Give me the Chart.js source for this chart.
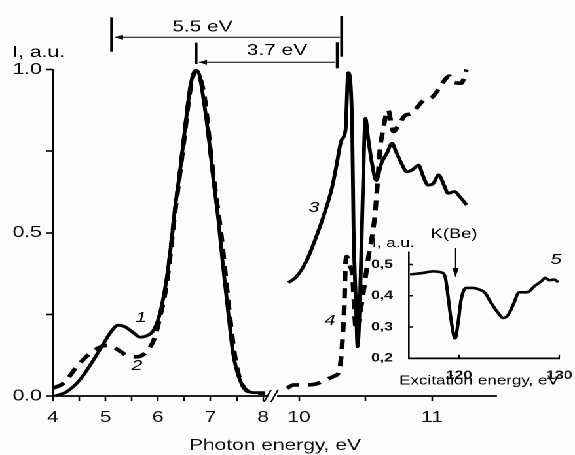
<!DOCTYPE html>
<html>
<head>
<meta charset="utf-8">
<script src="https://cdn.jsdelivr.net/npm/chart.js@4"></script>
<style>
  html, body { margin: 0; padding: 0; background: #fcfcfc; overflow: hidden; }
  /* the source figure is stretched sideways, so the drawing is too */
  #wrap { position: relative; width: 439px; height: 455px; transform: scaleX(1.30979); transform-origin: 0 0; }
  #wrap canvas { position: absolute; left: 0; top: 0; }
</style>
</head>
<body>
<div id="wrap">
  <canvas id="mainChart" width="439" height="455"></canvas>
  <canvas id="insetChart" width="439" height="455"></canvas>
</div>
<script>
// Luminescence / excitation spectra with a broken energy axis (8 -> 10 eV) and an inset

// ---- data ----
const X_TICKS_E     = [4, 4.5, 5, 5.5, 6, 6.5, 7, 7.5, 8, 10, 10.5, 11];
const X_TICK_LABELS = ['4', '', '5', '', '6', '', '7', '', '8', '10', '', '11'];
const Y_TICKS       = [0, 0.25, 0.5, 0.75, 1];
const Y_TICK_LABELS = ['0.0', '', '0.5', '', '1.0'];

// curve 1 (solid)
const C1_E = [4.04, 4.26, 4.51, 4.77, 4.96, 5.12, 5.24, 5.37, 5.53, 5.66, 5.78, 5.91, 6.02, 6.13, 6.20, 6.26, 6.32, 6.42, 6.50, 6.58, 6.64, 6.72, 6.79, 6.86, 6.96, 7.05, 7.15, 7.24, 7.34, 7.43, 7.56, 7.69, 7.88, 8.03];
const C1_I = [0.0, 0.013, 0.049, 0.11, 0.16, 0.20, 0.217, 0.212, 0.194, 0.18, 0.184, 0.20, 0.243, 0.325, 0.40, 0.478, 0.57, 0.69, 0.80, 0.906, 0.968, 0.998, 0.983, 0.917, 0.80, 0.67, 0.54, 0.396, 0.253, 0.131, 0.049, 0.018, 0.01, 0.01];

// curve 2 (dashed)
const C2_E = [4.0, 4.2, 4.48, 4.7, 4.9, 5.02, 5.15, 5.3, 5.43, 5.6, 5.78, 5.94, 6.05, 6.13, 6.2, 6.3, 6.42, 6.5, 6.58, 6.64, 6.72, 6.8, 6.9, 7.0, 7.1, 7.2, 7.3, 7.4, 7.5, 7.62, 7.82, 8.03];
const C2_I = [0.024, 0.039, 0.095, 0.13, 0.15, 0.155, 0.149, 0.135, 0.122, 0.12, 0.136, 0.18, 0.25, 0.31, 0.385, 0.53, 0.685, 0.79, 0.9, 0.962, 0.995, 0.975, 0.9, 0.75, 0.62, 0.5, 0.35, 0.2, 0.09, 0.03, 0.01, 0.008];

// curve 3 (solid)
const C3_E = [9.92, 9.98, 10.06, 10.13, 10.20, 10.25, 10.28, 10.32, 10.35, 10.37, 10.40, 10.41, 10.43, 10.44, 10.46, 10.48, 10.50, 10.52, 10.55, 10.58, 10.62, 10.66, 10.70, 10.73, 10.77, 10.81, 10.85, 10.90, 10.93, 10.97, 11.01, 11.05, 11.09, 11.12, 11.17, 11.21, 11.26];
const C3_I = [0.347, 0.365, 0.417, 0.488, 0.57, 0.641, 0.702, 0.784, 0.815, 0.99, 0.825, 0.519, 0.263, 0.151, 0.315, 0.621, 0.85, 0.79, 0.71, 0.66, 0.713, 0.743, 0.774, 0.748, 0.713, 0.687, 0.692, 0.707, 0.677, 0.646, 0.651, 0.677, 0.646, 0.621, 0.626, 0.61, 0.585];

// curve 4 (dashed)
const C4_E = [9.91, 9.96, 10.05, 10.12, 10.2, 10.27, 10.3, 10.32, 10.33, 10.34, 10.35, 10.36, 10.38, 10.4, 10.43, 10.47, 10.52, 10.57, 10.59, 10.61, 10.63, 10.67, 10.71, 10.75, 10.8, 10.85, 10.9, 10.95, 11.0, 11.05, 11.1, 11.13, 11.17, 11.22, 11.26];
const C4_I = [0.024, 0.034, 0.034, 0.036, 0.049, 0.062, 0.074, 0.131, 0.192, 0.27, 0.406, 0.427, 0.40, 0.376, 0.2, 0.28, 0.42, 0.55, 0.65, 0.76, 0.81, 0.876, 0.81, 0.83, 0.86, 0.865, 0.89, 0.91, 0.915, 0.94, 0.97, 0.98, 0.96, 0.958, 1.0];

// inset: curve 5
const IN_X_TICKS  = [120, 130];
const IN_Y_TICKS  = [0.2, 0.3, 0.4, 0.5];
const IN_Y_LABELS = ['0,2', '0,3', '0,4', '0,5'];
const C5_E = [115.1, 116.4, 117.4, 118.2, 118.6, 118.9, 119.2, 119.6, 119.9, 120.2, 120.7, 121.4, 122.0, 122.6, 123.2, 123.9, 124.4, 124.9, 125.4, 126.0, 126.5, 127.0, 127.5, 128.2, 128.6, 129.0, 129.5, 129.9];
const C5_I = [0.468, 0.473, 0.478, 0.475, 0.462, 0.398, 0.323, 0.264, 0.313, 0.387, 0.425, 0.425, 0.42, 0.409, 0.377, 0.345, 0.329, 0.339, 0.371, 0.411, 0.411, 0.414, 0.43, 0.446, 0.457, 0.45, 0.452, 0.443];

// ---- layout helpers ----
const S = 575 / 439;            // horizontal stretch of the picture
const X = px => px / S;          // picture px -> canvas px (horizontal only)
const FONT = "Arial, 'Liberation Sans', Helvetica, sans-serif";

// broken axis: 4..8 eV at 52.5 px/eV, 10..11.5 eV at 133 px/eV
const U_AT_10 = 4 + (299 - 53) / 52.5;
const U_MAX   = 4 + (497 - 53) / 52.5;
function toU(e) { return e <= 9 ? e : U_AT_10 + (e - 10) * 133 / 52.5; }
const pts = (es, is) => es.map((e, i) => ({ x: toU(e), y: is[i] }));
const pts5 = (es, is) => es.map((e, i) => ({ x: e, y: is[i] }));

Chart.defaults.font.family = FONT;
Chart.defaults.color = '#111';

function line(ctx, x1, y1, x2, y2) {
  ctx.beginPath(); ctx.moveTo(x1, y1); ctx.lineTo(x2, y2); ctx.stroke();
}

function arrowLeft(ctx, xTip, xEnd, y) {
  ctx.lineWidth = 1;
  line(ctx, xTip, y, xEnd, y);
  ctx.beginPath();
  ctx.moveTo(xTip, y);
  ctx.lineTo(xTip + X(8), y - 2.6);
  ctx.lineTo(xTip + X(8), y + 2.6);
  ctx.closePath(); ctx.fill();
}

const mainDecor = {
  id: 'mainDecor',
  afterDraw(chart) {
    const ctx = chart.ctx;
    const xs = chart.scales.x, ys = chart.scales.y;
    const y0 = ys.getPixelForValue(0);
    ctx.save();
    ctx.strokeStyle = '#000'; ctx.fillStyle = '#000';

    // x axis with the // break
    ctx.lineWidth = 1.7;
    line(ctx, xs.left - 0.6, y0, X(268), y0);
    line(ctx, X(277), y0, xs.right, y0);
    ctx.lineWidth = 1.3;
    line(ctx, X(264), y0 + 6, X(271), y0 - 6);
    line(ctx, X(271), y0 + 6, X(278), y0 - 6);

    // energy distance markers
    ctx.lineWidth = 3 / S;
    line(ctx, X(111.7), 17.3, X(111.7), 51.7);
    line(ctx, X(341.7), 16, X(341.7), 56.7);
    line(ctx, X(196), 42.7, X(196), 64);
    line(ctx, X(337.3), 42.3, X(337.3), 68.3);
    arrowLeft(ctx, X(115), X(340), 37.3);
    arrowLeft(ctx, X(199), X(335.5), 62.3);

    ctx.font = '16px ' + FONT;
    ctx.textAlign = 'center'; ctx.textBaseline = 'alphabetic';
    ctx.fillText('5.5 eV', X(202.5), 31.7);
    ctx.fillText('3.7 eV', X(277), 55);

    ctx.textAlign = 'left';
    ctx.fillText('I, a.u.', X(12.5), 57);

    // curve numbers
    ctx.font = 'italic 15px ' + FONT;
    ctx.textAlign = 'center'; ctx.textBaseline = 'middle';
    ctx.fillText('1', X(141), 318);
    ctx.fillText('2', X(137), 366);
    ctx.fillText('3', X(314), 208);
    ctx.fillText('4', X(330), 321);
    ctx.restore();
  }
};

const insetDecor = {
  id: 'insetDecor',
  afterDraw(chart) {
    const ctx = chart.ctx;
    const xs = chart.scales.x, ys = chart.scales.y;
    ctx.save();
    ctx.strokeStyle = '#000'; ctx.fillStyle = '#000';

    // inward tick marks
    ctx.lineWidth = 1.5;
    IN_Y_TICKS.slice(1).forEach(v => {
      const py = ys.getPixelForValue(v);
      line(ctx, xs.left, py, xs.left + X(4), py);
    });
    ctx.lineWidth = 1.5 / S;
    IN_X_TICKS.forEach(v => {
      const px = xs.getPixelForValue(v);
      line(ctx, px, ys.bottom, px, ys.bottom - 3.5);
    });

    // K(Be) marker
    const ax = X(455.5);
    ctx.lineWidth = 1 / S;
    line(ctx, ax, 248, ax, 270);
    ctx.beginPath();
    ctx.moveTo(ax, 277.5);
    ctx.lineTo(ax - X(3.2), 268);
    ctx.lineTo(ax + X(3.2), 268);
    ctx.closePath(); ctx.fill();

    ctx.textBaseline = 'alphabetic';
    ctx.font = '14px ' + FONT;
    ctx.textAlign = 'center';
    ctx.fillText('K(Be)', X(454), 238);
    ctx.font = '13px ' + FONT;
    ctx.textAlign = 'left';
    ctx.fillText('I, a.u.', X(372), 247);
    ctx.textAlign = 'center';
    ctx.fillText('Excitation energy, eV', X(479), 384.5);

    ctx.font = 'italic 15px ' + FONT;
    ctx.textBaseline = 'middle';
    ctx.fillText('5', X(556), 260);
    ctx.restore();
  }
};

new Chart(document.getElementById('mainChart'), {
  type: 'line',
  data: {
    datasets: [
      { data: pts(C2_E, C2_I), borderWidth: 3.6, borderDash: [10, 7] },
      { data: pts(C4_E, C4_I), borderWidth: 3.6, borderDash: [10, 7] },
      { data: pts(C1_E, C1_I), borderWidth: 2.9 },
      { data: pts(C3_E, C3_I), borderWidth: 2.9 }
    ].map(d => Object.assign({
      borderColor: '#000', pointRadius: 0, fill: false, clip: false,
      cubicInterpolationMode: 'monotone', borderJoinStyle: 'round'
    }, d))
  },
  options: {
    responsive: false,
    devicePixelRatio: 2,
    animation: false,
    layout: { padding: { left: 0, right: X(575 - 497), top: 69.5, bottom: 0 } },
    plugins: { legend: { display: false }, tooltip: { enabled: false } },
    scales: {
      x: {
        type: 'linear', min: 4, max: U_MAX,
        afterFit: s => { s.height = 455 - 396; },
        afterBuildTicks: s => { s.ticks = X_TICKS_E.map(e => ({ value: toU(e) })); },
        border: { display: false },
        grid: { drawOnChartArea: false, color: '#000', tickLength: 5, tickWidth: 1.3 },
        ticks: {
          autoSkip: false, maxRotation: 0, minRotation: 0, padding: 7,
          font: { size: 16 }, color: '#111',
          callback: (v, i) => X_TICK_LABELS[i]
        },
        title: { display: true, text: 'Photon energy, eV', font: { size: 16 }, color: '#111', padding: { top: 0, bottom: 0 } }
      },
      y: {
        min: 0, max: 1,
        afterFit: s => { s.width = X(53); },
        afterBuildTicks: s => { s.ticks = Y_TICKS.map(v => ({ value: v })); },
        border: { display: true, color: '#000', width: 1.3 },
        grid: { drawOnChartArea: false, color: '#000', tickLength: X(6.7), tickWidth: 1.6 },
        ticks: {
          padding: 3.5, font: { size: 16 }, color: '#111',
          callback: (v, i) => Y_TICK_LABELS[i]
        }
      }
    }
  },
  plugins: [mainDecor]
});

new Chart(document.getElementById('insetChart'), {
  type: 'line',
  data: {
    datasets: [{
      data: pts5(C5_E, C5_I), borderColor: '#000', borderWidth: 2.6, pointRadius: 0,
      fill: false, clip: false, cubicInterpolationMode: 'monotone', borderJoinStyle: 'round'
    }]
  },
  options: {
    responsive: false,
    devicePixelRatio: 2,
    animation: false,
    layout: { padding: { left: 0, right: X(575 - 560), top: 252, bottom: 0 } },
    plugins: { legend: { display: false }, tooltip: { enabled: false } },
    scales: {
      x: {
        type: 'linear', min: 115, max: 130,
        afterFit: s => { s.height = 455 - 358.3; },
        afterBuildTicks: s => { s.ticks = IN_X_TICKS.map(v => ({ value: v })); },
        border: { display: true, color: '#000', width: 1.7 },
        grid: { display: false },
        ticks: {
          autoSkip: false, maxRotation: 0, minRotation: 0, padding: 2,
          font: { size: 12, weight: 'bold' }, color: '#111',
          callback: v => String(v)
        }
      },
      y: {
        min: 0.2, max: 0.54,
        afterFit: s => { s.width = X(409); },
        afterBuildTicks: s => { s.ticks = IN_Y_TICKS.map(v => ({ value: v })); },
        border: { display: true, color: '#000', width: 1.3 },
        grid: { display: false },
        ticks: {
          padding: X(5.5), font: { size: 12, weight: 'bold' }, color: '#111',
          callback: (v, i) => IN_Y_LABELS[i]
        }
      }
    }
  },
  plugins: [insetDecor]
});
</script>
</body>
</html>
